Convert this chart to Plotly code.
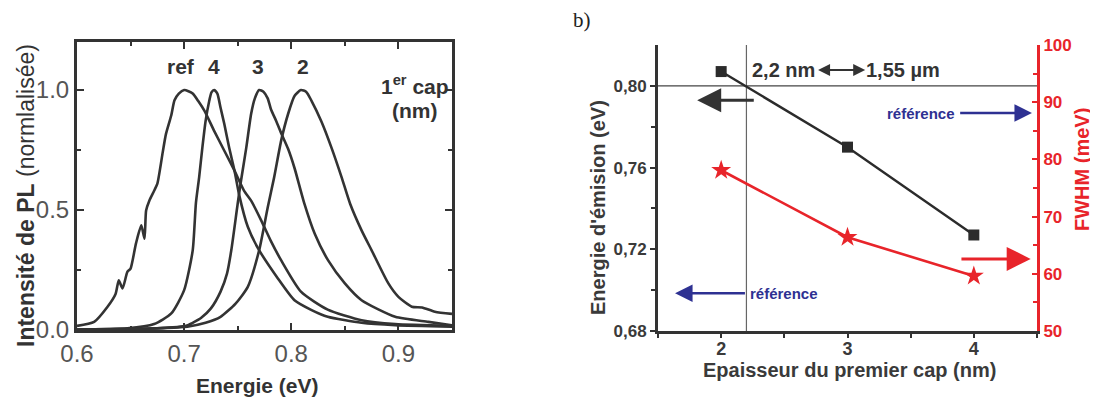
import plotly.graph_objects as go

# The page body adds an 8 px margin, so the figure is 8 px smaller and all
# reference pixel positions are shifted by -8 px.
OFF = 8
W, H = 1098 - OFF, 398 - OFF

def PX(X):
    return (X - OFF) / W

def PY(Y):
    return 1 - (Y - OFF) / H

# ---------------- Panel a: PL spectra ----------------
ref_x = [0.600, 0.616, 0.6285, 0.636, 0.639, 0.6425, 0.647, 0.650, 0.655, 0.660, 0.663, 0.6645,
         0.6675, 0.672, 0.675, 0.680, 0.683, 0.688, 0.691, 0.695, 0.700, 0.704, 0.708, 0.713,
         0.719, 0.728, 0.7375, 0.747, 0.756, 0.7625, 0.772, 0.781, 0.7906, 0.809, 0.834,
         0.8656, 0.897, 0.950]
ref_y = [0.017, 0.034, 0.097, 0.150, 0.207, 0.173, 0.242, 0.256, 0.360, 0.436, 0.380, 0.498,
         0.539, 0.580, 0.610, 0.740, 0.816, 0.895, 0.957, 0.985, 1.000, 0.995, 0.985, 0.955,
         0.913, 0.830, 0.747, 0.664, 0.580, 0.539, 0.456, 0.370, 0.290, 0.160, 0.085,
         0.041, 0.025, 0.017]

c4_x = [0.600, 0.647, 0.672, 0.688, 0.700, 0.708, 0.711, 0.714, 0.717, 0.720, 0.7234, 0.7255,
        0.728, 0.731, 0.734, 0.7375, 0.742, 0.747, 0.7515, 0.7594, 0.769, 0.7875, 0.803, 0.819,
        0.834, 0.8656, 0.897, 0.950]
c4_y = [0.002, 0.007, 0.025, 0.069, 0.166, 0.332, 0.530, 0.636, 0.760, 0.870, 0.954, 0.990,
        1.000, 0.985, 0.926, 0.858, 0.760, 0.664, 0.560, 0.430, 0.340, 0.215, 0.124, 0.083,
        0.055, 0.030, 0.020, 0.014]

c3_x = [0.600, 0.678, 0.697, 0.7035, 0.7157, 0.725, 0.734, 0.740, 0.744, 0.750, 0.753, 0.758,
        0.7625, 0.766, 0.770, 0.774, 0.778, 0.781, 0.786, 0.791, 0.797, 0.803, 0.812, 0.822,
        0.8344, 0.850, 0.8656, 0.897, 0.928, 0.950]
c3_y = [0.002, 0.008, 0.014, 0.020, 0.050, 0.090, 0.160, 0.235, 0.332, 0.527, 0.620, 0.760,
        0.900, 0.965, 1.000, 0.993, 0.965, 0.920, 0.870, 0.816, 0.755, 0.675, 0.530, 0.400,
        0.290, 0.194, 0.124, 0.055, 0.034, 0.020]

c2_x = [0.600, 0.650, 0.680, 0.703, 0.720, 0.734, 0.748, 0.7594, 0.770, 0.778, 0.784, 0.7906,
        0.797, 0.803, 0.809, 0.814, 0.819, 0.828, 0.8375, 0.847, 0.855, 0.8656, 0.875, 0.8906,
        0.900, 0.9125, 0.922, 0.934, 0.950]
c2_y = [0.001, 0.003, 0.008, 0.014, 0.030, 0.055, 0.110, 0.180, 0.332, 0.510, 0.636, 0.790,
        0.900, 0.975, 1.000, 0.992, 0.954, 0.870, 0.760, 0.636, 0.525, 0.415, 0.332, 0.194,
        0.138, 0.097, 0.094, 0.076, 0.067]

peak_labels = ["ref", "4", "3", "2"]
peak_label_x = [0.697, 0.728, 0.769, 0.811]

# ---------------- Panel b: emission energy & FWHM ----------------
cap_nm = [2, 3, 4]
energy_eV = [0.807, 0.770, 0.727]
fwhm_meV = [78.1, 66.4, 59.6]
ref_energy_eV = 0.80      # 1,55 um
ref_cap_nm = 2.2
ref_fwhm_meV = 88.1

DARK = "#333333"
GRAY = "#555555"
RED = "#e8242a"
BLUE = "#2e3192"
FONT = "Liberation Sans, Arial, sans-serif"

fig = go.Figure()

for xs, ys in [(ref_x, ref_y), (c4_x, c4_y), (c3_x, c3_y), (c2_x, c2_y)]:
    fig.add_trace(go.Scatter(x=xs, y=ys, mode="lines", xaxis="x", yaxis="y",
                             line=dict(color=DARK, width=2.6, shape="spline", smoothing=0.6),
                             showlegend=False, hoverinfo="skip"))

# Panel b traces
fig.add_trace(go.Scatter(x=[ref_cap_nm, ref_cap_nm], y=[0.68, 0.82], mode="lines",
                         xaxis="x2", yaxis="y2", line=dict(color="#666666", width=1.2),
                         showlegend=False, hoverinfo="skip"))
fig.add_trace(go.Scatter(x=[1.5, 4.5], y=[ref_energy_eV, ref_energy_eV], mode="lines",
                         xaxis="x2", yaxis="y2", line=dict(color="#444444", width=1.2),
                         showlegend=False, hoverinfo="skip"))
fig.add_trace(go.Scatter(x=cap_nm, y=energy_eV, mode="lines+markers", xaxis="x2", yaxis="y2",
                         line=dict(color="#2b2b2b", width=2.4),
                         marker=dict(symbol="square", size=11, color="#2b2b2b"),
                         showlegend=False))
fig.add_trace(go.Scatter(x=cap_nm, y=fwhm_meV, mode="lines+markers", xaxis="x2", yaxis="y3",
                         line=dict(color=RED, width=2.6),
                         marker=dict(symbol="star", size=15, color=RED),
                         showlegend=False))

ax_common = dict(showgrid=False, zeroline=False, showline=True, linewidth=3, automargin=False)

fig.update_layout(
    width=W, height=H, autosize=False,
    margin=dict(l=0, r=0, t=0, b=0, autoexpand=False),
    paper_bgcolor="white", plot_bgcolor="white",
    font=dict(family=FONT, color=DARK),
    xaxis=dict(domain=[PX(77), PX(452)], range=[0.6, 0.95], anchor="y",
               tick0=0.6, dtick=0.1, tickformat=".1f", ticks="inside", ticklen=7, tickwidth=2,
               tickcolor=DARK, linecolor=DARK, mirror="allticks",
               minor=dict(ticks="inside", dtick=0.05, ticklen=4, tickwidth=2, tickcolor=DARK),
               tickfont=dict(size=24, color=GRAY), **ax_common),
    yaxis=dict(domain=[PY(330), PY(42)], range=[0, 1.2], anchor="x",
               tickvals=[0, 0.5, 1.0], ticktext=["0.0", "0.5", "1.0"],
               ticks="inside", ticklen=7, tickwidth=2, tickcolor=DARK, linecolor=DARK,
               mirror="allticks",
               minor=dict(ticks="inside", tickvals=[0.25, 0.75], ticklen=4, tickwidth=2, tickcolor=DARK),
               tickfont=dict(size=24, color=GRAY), **ax_common),
    xaxis2=dict(domain=[PX(658), PX(1037)], range=[1.5, 4.5], anchor="y2",
                tickvals=[2, 3, 4], ticktext=["<b>2</b>", "<b>3</b>", "<b>4</b>"],
                ticks="outside", ticklen=4, tickwidth=2, tickcolor=DARK, linecolor=DARK,
                ticklabelstandoff=-5,
                minor=dict(ticks="outside", tickvals=[1.5, 2.5, 3.5, 4.5], ticklen=4, tickwidth=2, tickcolor=DARK),
                tickfont=dict(size=18, color="#3a3a3a"), **ax_common),
    xaxis3=dict(domain=[PX(658), PX(1037)], range=[1.5, 4.5], anchor="y2", overlaying="x2",
                side="top", tickvals=[2, 3, 4], showticklabels=False,
                ticks="inside", ticklen=5, tickwidth=2, tickcolor=DARK, linecolor=DARK,
                minor=dict(ticks="inside", tickvals=[2.5, 3.5], ticklen=4, tickwidth=2, tickcolor=DARK),
                **ax_common),
    yaxis2=dict(domain=[PY(331), PY(45)], range=[0.68, 0.82], anchor="x2",
                tickvals=[0.68, 0.72, 0.76, 0.80],
                ticktext=["<b>0,68</b>", "<b>0,72</b>", "<b>0,76</b>", "<b>0,80</b>"],
                ticks="outside", ticklen=5, tickwidth=2, tickcolor=DARK, linecolor=DARK,
                minor=dict(ticks="outside", tickvals=[0.70, 0.74, 0.78], ticklen=4, tickwidth=2, tickcolor=DARK),
                tickfont=dict(size=17, color="#3a3a3a"), **ax_common),
    yaxis3=dict(domain=[PY(331), PY(45)], range=[50, 100], anchor="x2", overlaying="y2",
                side="right", tickvals=[50, 60, 70, 80, 90, 100],
                ticktext=["<b>%d</b>" % v for v in [50, 60, 70, 80, 90, 100]],
                ticks="inside", ticklen=5, tickwidth=2, tickcolor=RED, linecolor=RED,
                minor=dict(ticks="inside", tickvals=[55, 65, 75, 85, 95], ticklen=4, tickwidth=2, tickcolor=RED),
                tickfont=dict(size=17, color=RED), **ax_common),
)

ann = []
def paper_text(text, X, Y, size, color=DARK, angle=0, family=FONT):
    ann.append(dict(text=text, x=PX(X), y=PY(Y), xref="paper", yref="paper",
                    xanchor="center", yanchor="middle", showarrow=False, textangle=angle,
                    font=dict(size=size, color=color, family=family)))

# Panel a titles and labels
paper_text("<b>Intensité de PL</b> (normlalisée)", 26, 196, 23, angle=-90)
paper_text("<b>Energie (eV)</b>", 257, 385, 21)
for lab, lx in zip(peak_labels, peak_label_x):
    ann.append(dict(text="<b>%s</b>" % lab, x=lx, y=1.10, xref="x", yref="y", showarrow=False,
                    xanchor="center", yanchor="middle", font=dict(size=21, color=DARK)))
ann.append(dict(text="<b>1<sup>er</sup> cap</b>", x=0.915, y=1.02, xref="x", yref="y",
                showarrow=False, xanchor="center", yanchor="middle", font=dict(size=21, color=DARK)))
ann.append(dict(text="<b>(nm)</b>", x=0.915, y=0.913, xref="x", yref="y",
                showarrow=False, xanchor="center", yanchor="middle", font=dict(size=21, color=DARK)))

# Panel b titles
paper_text("b)", 582, 20, 21, color="#222222", family="Liberation Serif, Times New Roman, serif")
paper_text("<b>Energie d'émision (eV)</b>", 598, 208, 20, color="#3a3a3a", angle=-90)
paper_text("<b>Epaisseur du premier cap (nm)</b>", 849, 370, 20, color="#3a3a3a")
paper_text("<b>FWHM (meV)</b>", 1082, 170, 20, color=RED, angle=-90)

# Panel b texts
ann.append(dict(text="<b>2,2 nm</b>", x=2.49, y=0.8078, xref="x2", yref="y2", showarrow=False,
                xanchor="center", yanchor="middle", font=dict(size=20, color=DARK)))
ann.append(dict(text="<b>1,55 µm</b>", x=3.44, y=0.8078, xref="x2", yref="y2", showarrow=False,
                xanchor="center", yanchor="middle", font=dict(size=20, color=DARK)))
ann.append(dict(text="<b>référence</b>", x=3.58, y=ref_fwhm_meV, xref="x2", yref="y3", showarrow=False,
                xanchor="center", yanchor="middle", font=dict(size=15, color=BLUE)))
ann.append(dict(text="<b>référence</b>", x=2.50, y=0.6985, xref="x2", yref="y2", showarrow=False,
                xanchor="center", yanchor="middle", font=dict(size=15, color=BLUE)))

# Arrows
def arrow(x0, y0, x1, y1, yref, color, width, size, side="end"):
    ann.append(dict(text="", x=x1, y=y1, ax=x0, ay=y0, xref="x2", yref=yref,
                    axref="x2", ayref=yref, showarrow=True, arrowhead=2, arrowsize=size,
                    arrowwidth=width, arrowcolor=color, arrowside=side, standoff=0, startstandoff=0))

arrow(2.755, 0.8078, 3.14, 0.8078, "y2", DARK, 2, 1.2, side="end+start")
arrow(2.27, 0.793, 1.81, 0.793, "y2", DARK, 3, 1.6)
arrow(3.88, ref_fwhm_meV, 4.46, ref_fwhm_meV, "y3", BLUE, 2.5, 1.4)
arrow(2.20, 0.6985, 1.635, 0.6985, "y2", BLUE, 2.5, 1.4)
arrow(3.89, 62.6, 4.45, 62.6, "y3", RED, 3, 1.6)

fig.update_layout(annotations=ann)
fig.write_html("out.html")
